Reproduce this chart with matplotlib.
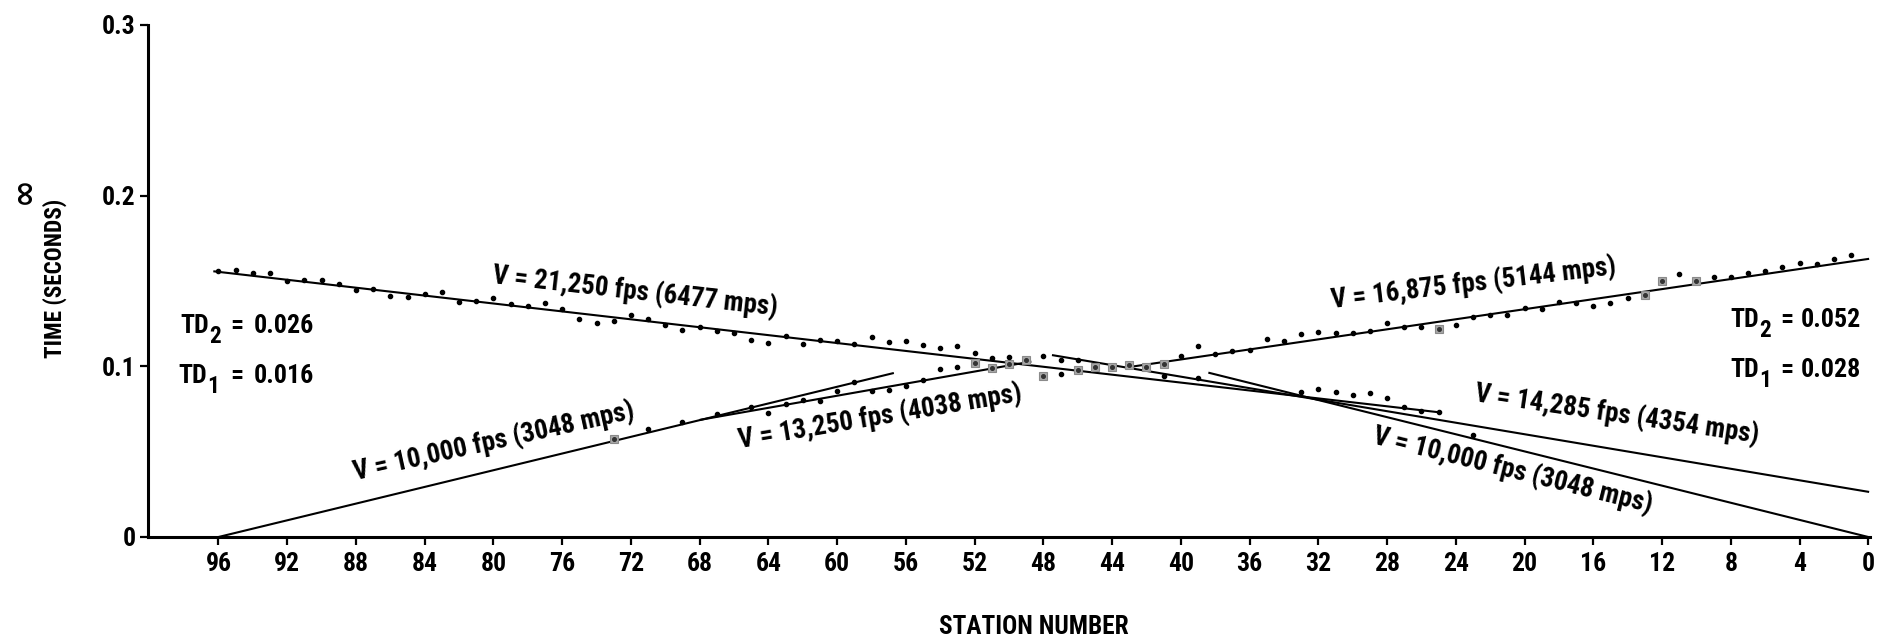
import matplotlib
matplotlib.use("Agg")
import matplotlib.pyplot as plt
from matplotlib import font_manager
from matplotlib.font_manager import FontProperties
from matplotlib.textpath import TextPath

W, H = 1888, 639

# axis ticks
station_ticks = list(range(96, -1, -4))
time_ticks = [0.0, 0.1, 0.2, 0.3]
time_tick_labels = ["0", "0.1", "0.2", "0.3"]

# fitted velocity segments: end points as (station, time in s)
seg_s0 = [96.3, 96.0, 68.0, 43.0, 47.5, 38.4]
seg_t0 = [0.1557, 0.0, 0.0686, 0.0996, 0.1066, 0.0963]
seg_s1 = [25.0, 56.7, 48.7, -0.05, -0.05, 0.0]
seg_t1 = [0.0731, 0.0961, 0.1028, 0.1630, 0.0264, 0.0]

seg_labels = [
    "V = 21,250 fps (6477 mps)",
    "V = 10,000 fps (3048 mps)",
    "V = 13,250 fps (4038 mps)",
    "V = 16,875 fps (5144 mps)",
    "V = 14,285 fps (4354 mps)",
    "V = 10,000 fps (3048 mps)",
]
# label centre (pixels) and angle
label_x = [635, 494, 880, 1474, 1617, 1513]
label_y = [292, 442, 417, 284, 415, 471]
label_rot = [-6.5, 12.5, 9.5, 6.8, -8.4, -14.0]

# first breaks, shot at station 0
rev_stations = list(range(96, 49, -1)) + [48, 47, 46, 41, 39, 33, 32, 31, 30, 29, 28, 27, 26, 25, 23]
rev_times = [0.1557, 0.1566, 0.1547, 0.1547, 0.1500, 0.1505, 0.1507, 0.1484, 0.1447, 0.1456,
             0.1411, 0.1409, 0.1421, 0.1434, 0.1378, 0.1380, 0.1398, 0.1368, 0.1353, 0.1373,
             0.1338, 0.1275, 0.1255, 0.1265, 0.1303, 0.1278, 0.1242, 0.1212, 0.1231, 0.1205,
             0.1195, 0.1156, 0.1135, 0.1177, 0.1128, 0.1153, 0.1149, 0.1128, 0.1172, 0.1141,
             0.1150, 0.1126, 0.1110, 0.1119, 0.1081, 0.1046, 0.1055,
             0.1059, 0.1040, 0.1036, 0.0944, 0.0929, 0.0848, 0.0869, 0.0849, 0.0830,
             0.0842, 0.0813, 0.0762, 0.0738, 0.0732, 0.0600]

# first breaks, shot at station 96
fwd_stations = [71, 69, 67, 65, 64, 63, 62, 61, 60, 59, 58, 57, 56, 55, 54, 53, 47,
                40, 39, 38, 37, 36, 35, 34, 33, 32, 31, 30, 29, 28, 27, 26,
                24, 23, 22, 21, 20, 19, 18, 17, 16, 15, 14, 11, 9, 8, 7, 6, 5, 4, 3, 2, 1]
fwd_times = [0.0630, 0.0673, 0.0721, 0.0759, 0.0724, 0.0781, 0.0803, 0.0797, 0.0858, 0.0907,
             0.0854, 0.0863, 0.0886, 0.0921, 0.0983, 0.0994, 0.0957,
             0.1061, 0.1120, 0.1074, 0.1089, 0.1098, 0.1161, 0.1147, 0.1190, 0.1201, 0.1195,
             0.1195, 0.1208, 0.1253, 0.1233, 0.1229,
             0.1242, 0.1290, 0.1300, 0.1303, 0.1342, 0.1334, 0.1377, 0.1373, 0.1351, 0.1372,
             0.1399, 0.1541, 0.1526, 0.1526, 0.1549, 0.1559, 0.1583, 0.1603, 0.1597, 0.1626,
             0.1655]

# doubtful picks, drawn boxed
box_stations = [73, 52, 51, 50, 49, 48, 46, 45, 44, 43, 42, 41, 25, 13, 12, 10]
box_times = [0.0576, 0.1022, 0.0988, 0.1012, 0.1036, 0.0942, 0.0981, 0.0997, 0.0996,
             0.1005, 0.0996, 0.1011, 0.1217, 0.1418, 0.1502, 0.1502]

# delay times: subscript, value, left x, baseline y, x of "=", x of value
td_subs = ["2", "1", "2", "1"]
td_values = ["0.026", "0.016", "0.052", "0.028"]
td_x = [180, 178, 1730, 1730]
td_base = [333, 383, 327, 377]
td_eq_x = [230, 230, 1780, 1780]
td_val_x = [254, 254, 1801, 1801]


def pick_font():
    # only narrow families that ship a real bold face
    bold = set()
    for f in font_manager.fontManager.ttflist:
        try:
            if int(f.weight) >= 700:
                bold.add(f.name)
        except (TypeError, ValueError):
            if str(f.weight) in ("bold", "heavy", "black"):
                bold.add(f.name)
    for name in ["Roboto Condensed", "Archivo Narrow", "Liberation Sans Narrow",
                 "Oswald", "Encode Sans Condensed"]:
        if name in bold:
            return name, "normal"
    return "DejaVu Sans", "condensed"


FAMILY, STRETCH = pick_font()
PROP = FontProperties(family=FAMILY, stretch=STRETCH, weight="bold")


def fx(x):
    return x / W


def fy(y):
    return 1 - y / H


def size_for(text, width_px, cap_px):
    # glyph outlines at 100 pt, in points; 1 pt = 100/72 px at this dpi
    ext = TextPath((0, 0), text, size=100, prop=PROP).get_extents()
    cap = TextPath((0, 0), "H", size=100, prop=PROP).get_extents().height
    by_width = 100 * width_px / (ext.width * 100 / 72)
    by_cap = 100 * cap_px / (cap * 100 / 72)
    return min(by_width, by_cap)


fig = plt.figure(figsize=(W / 100, H / 100), dpi=100)
renderer = fig.canvas.get_renderer()


def put(x, y, text, size, **kw):
    return fig.text(fx(x), fy(y), text, family=FAMILY, stretch=STRETCH,
                    fontweight="bold", fontsize=size, **kw)


label_size = size_for(seg_labels[0], 285, 22)
tick_size = size_for("96", 24, 19)
td_size = size_for("0.026", 58, 20)
xlab_size = size_for("STATION NUMBER", 195, 18)
ylab_size = size_for("TIME (SECONDS)", 157, 19)

ax = fig.add_axes([fx(148), fy(537), fx(1870 - 148), (537 - 25) / H])

for s0, t0, s1, t1 in zip(seg_s0, seg_t0, seg_s1, seg_t1):
    ax.plot([s0, s1], [t0, t1], color="black", lw=1.5, solid_capstyle="butt", zorder=3)

ax.plot(box_stations, box_times, ls="none", marker="s", ms=5.5,
        mfc="#a8a8a8", mec="#8a8a8a", mew=0.8, zorder=4)
ax.plot(box_stations, box_times, ls="none", marker="o", ms=2.6, color="#333333", zorder=5)
ax.plot(rev_stations, rev_times, ls="none", marker="o", ms=3.0, color="black", zorder=5)
ax.plot(fwd_stations, fwd_times, ls="none", marker="o", ms=3.0, color="black", zorder=5)

ax.set_xlim(100.1, -0.1)
ax.set_ylim(0, 0.3)
ax.set_xticks(station_ticks)
ax.set_xticklabels([str(s) for s in station_ticks])
ax.set_yticks(time_ticks)
ax.set_yticklabels(time_tick_labels)

for side in ["top", "right"]:
    ax.spines[side].set_visible(False)
for side in ["left", "bottom"]:
    ax.spines[side].set_linewidth(2.2)
ax.tick_params(axis="both", direction="out", length=6, width=1.6, color="black")
ax.tick_params(axis="x", pad=5)
ax.tick_params(axis="y", pad=3)
for lab in ax.get_xticklabels() + ax.get_yticklabels():
    lab.set_family(FAMILY)
    lab.set_stretch(STRETCH)
    lab.set_fontweight("bold")
    lab.set_fontsize(tick_size)

# velocity labels along the segments
for txt, x, y, r in zip(seg_labels, label_x, label_y, label_rot):
    put(x, y, txt, label_size, rotation=r, rotation_mode="anchor", ha="center", va="center")

# delay times at each end of the spread
for sub, val, x, base, xeq, xval in zip(td_subs, td_values, td_x, td_base, td_eq_x, td_val_x):
    td = put(x, base, "TD", td_size, ha="left", va="baseline")
    w = td.get_window_extent(renderer).width
    put(x + w, base + 10, sub, td_size * 0.9, ha="left", va="baseline")
    put(xeq, base, "=", td_size, ha="left", va="baseline")
    put(xval, base, val, td_size, ha="left", va="baseline")

put(55, 278, "TIME (SECONDS)", ylab_size, rotation=90, ha="center", va="center")
fig.text(fx(23), fy(190), "\u221e", rotation=90, ha="center", va="center",
         family="DejaVu Sans", fontweight="bold", fontsize=24)
put(1034, 627, "STATION NUMBER", xlab_size, ha="center", va="center")

fig.savefig("out.png", dpi=100, facecolor="white")
